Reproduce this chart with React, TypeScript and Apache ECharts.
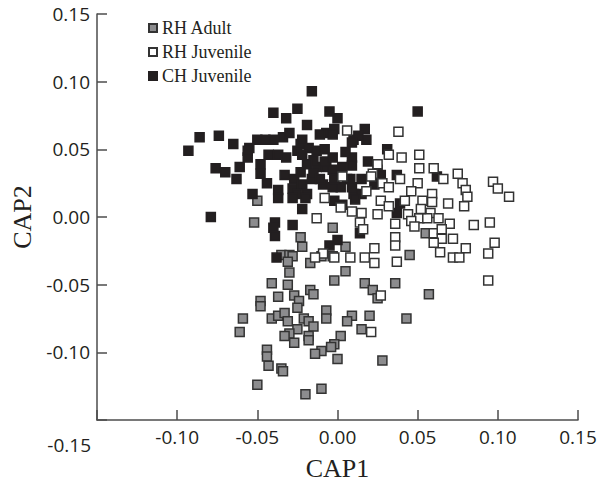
import React, { useEffect, useRef } from "react";
import * as echarts from "echarts";

// CAP1 / CAP2 scores
const rhAdult: [number, number][] = [
  [-0.050, 0.012], [-0.052, -0.004], [-0.003, -0.008], [-0.023, -0.015], [-0.022, -0.022],
  [0.005, -0.022], [-0.035, -0.028], [-0.030, -0.028], [-0.028, -0.029], [-0.031, -0.033],
  [-0.017, -0.034], [-0.010, -0.029], [-0.003, -0.029], [0.005, -0.040], [-0.030, -0.041],
  [-0.002, -0.047], [-0.041, -0.049], [-0.031, -0.050], [-0.037, -0.059], [-0.027, -0.058],
  [-0.017, -0.054], [-0.015, -0.057], [-0.024, -0.062], [-0.048, -0.062], [-0.048, -0.066],
  [-0.025, -0.067], [-0.007, -0.069], [-0.007, -0.075], [0.009, -0.073], [0.006, -0.077],
  [0.020, -0.073], [0.017, -0.049], [0.022, -0.054], [0.025, -0.060], [0.036, -0.049],
  [-0.059, -0.075], [-0.041, -0.075], [-0.037, -0.073], [-0.033, -0.071], [-0.031, -0.077],
  [-0.021, -0.075], [-0.018, -0.077], [-0.015, -0.081], [-0.025, -0.083], [-0.030, -0.086],
  [-0.033, -0.088], [-0.027, -0.093], [-0.018, -0.088], [-0.018, -0.091], [-0.061, -0.085],
  [0.015, -0.083], [0.002, -0.088], [-0.002, -0.094], [-0.004, -0.096], [-0.010, -0.099],
  [-0.014, -0.101], [0.000, -0.105], [-0.044, -0.098], [-0.044, -0.103], [-0.043, -0.110],
  [-0.035, -0.112], [-0.034, -0.114], [0.028, -0.106], [-0.050, -0.124], [-0.010, -0.127],
  [-0.020, -0.131], [0.045, -0.028], [0.057, -0.057], [0.043, -0.075], [0.055, -0.012],
];

const rhJuvenile: [number, number][] = [
  [0.006, 0.064], [0.038, 0.063], [0.032, 0.046], [0.040, 0.044], [0.051, 0.046],
  [0.025, 0.039], [0.022, 0.032], [0.028, 0.025], [0.032, 0.022], [0.039, 0.028],
  [0.051, 0.036], [0.060, 0.036], [0.066, 0.028], [0.075, 0.032], [0.078, 0.025],
  [0.080, 0.020], [0.081, 0.015], [0.079, 0.008], [0.069, 0.010], [0.097, 0.026],
  [0.100, 0.021], [0.107, 0.015], [0.050, 0.025], [0.046, 0.019], [0.027, 0.012],
  [0.032, 0.008], [0.025, 0.002], [0.015, 0.003], [0.014, -0.004], [0.002, 0.007],
  [-0.008, 0.014], [-0.013, -0.001], [0.003, 0.030], [0.053, 0.012], [0.059, 0.017],
  [0.059, 0.011], [0.058, 0.003], [0.063, -0.001], [0.051, -0.001], [0.056, -0.001],
  [0.044, 0.002], [0.046, -0.003], [0.048, -0.007], [0.070, -0.005], [0.085, -0.006],
  [0.095, -0.004], [0.098, -0.019], [0.080, -0.023], [0.072, -0.030], [0.076, -0.030],
  [0.064, -0.026], [0.072, -0.016], [0.060, -0.012], [0.065, -0.016], [0.060, -0.019],
  [0.036, -0.015], [0.036, -0.021], [0.023, -0.023], [0.017, -0.030], [0.008, -0.030],
  [-0.002, -0.030], [-0.009, -0.027], [-0.014, -0.030], [0.037, -0.033], [0.094, -0.027],
  [0.094, -0.047], [0.027, -0.058], [0.021, -0.085], [0.016, -0.009], [0.065, -0.009],
  [0.023, -0.034], [0.021, 0.030], [0.018, 0.019], [0.036, -0.005], [0.042, 0.012],
  [0.052, 0.006], [0.009, 0.004],
];

const chJuvenile: [number, number][] = [
  [-0.093, 0.049], [-0.086, 0.059], [-0.074, 0.060], [-0.076, 0.036], [-0.079, 0.000],
  [-0.065, 0.054], [-0.070, 0.033], [-0.061, 0.037], [-0.056, 0.044], [-0.055, 0.051],
  [-0.050, 0.057], [-0.040, 0.077], [-0.032, 0.073], [-0.040, 0.057], [-0.034, 0.059],
  [-0.043, 0.046], [-0.037, 0.046], [-0.032, 0.044], [-0.025, 0.049], [-0.019, 0.068],
  [-0.016, 0.093], [-0.005, 0.078], [0.000, 0.073], [-0.007, 0.062], [-0.002, 0.065],
  [-0.023, 0.054], [-0.018, 0.051], [-0.013, 0.049], [-0.008, 0.050], [-0.048, 0.039],
  [-0.048, 0.032], [-0.044, 0.025], [-0.037, 0.020], [-0.063, 0.028], [-0.053, 0.017],
  [-0.028, 0.021], [-0.027, 0.028], [-0.022, 0.024], [-0.016, 0.028], [-0.013, 0.037],
  [-0.007, 0.037], [-0.003, 0.035], [0.003, 0.037], [0.006, 0.028], [0.002, 0.022],
  [-0.003, 0.022], [-0.009, 0.024], [-0.019, 0.017], [-0.025, 0.017], [-0.022, 0.006],
  [-0.002, 0.012], [0.003, 0.009], [0.010, 0.017], [0.009, 0.044], [0.010, 0.057],
  [-0.011, 0.061], [-0.003, 0.061], [0.017, 0.065], [0.018, 0.057], [0.050, 0.078],
  [-0.022, 0.057], [-0.022, 0.046], [-0.015, 0.042], [-0.008, 0.041], [-0.003, 0.044],
  [0.009, 0.038], [0.019, 0.041], [0.031, 0.050], [0.025, 0.035], [0.027, 0.031],
  [-0.019, 0.039], [-0.015, 0.032], [-0.011, 0.028], [-0.002, 0.028], [0.008, 0.028],
  [0.009, 0.022], [0.015, 0.028], [0.015, 0.017], [0.023, 0.024], [0.037, 0.031],
  [0.062, 0.030], [0.011, 0.013], [0.039, 0.010], [0.037, 0.003], [0.014, -0.012],
  [-0.005, -0.021], [0.000, -0.017], [-0.039, -0.004], [-0.040, -0.008], [-0.039, -0.014],
  [-0.028, -0.006], [-0.038, -0.030], [-0.037, 0.014], [-0.028, 0.014], [-0.020, 0.014],
  [0.013, 0.060], [0.009, 0.055], [-0.045, 0.057], [-0.056, 0.049], [-0.030, 0.062],
  [-0.025, 0.080], [0.005, 0.048], [-0.023, 0.033], [-0.033, 0.031],
];

const axisTicks = [-0.15, -0.1, -0.05, 0, 0.05, 0.1, 0.15];
const seriesNames = ["RH Adult", "RH Juvenile", "CH Juvenile"];

const TEXT = "#231f20";
const AXIS = "#4d4d4d";
const SANS = "'Open Sans', 'Noto Sans', sans-serif";
const SERIF = "'Liberation Serif', 'DejaVu Serif', serif";

export default function App() {
  const ref = useRef<HTMLDivElement>(null);
  useEffect(() => {
    if (!ref.current) return;
    const chart = echarts.init(ref.current, undefined, { renderer: "svg" });
    const fmt = (v: number) =>
      Math.abs(v - axisTicks[0]) < 1e-9 ? "" : v.toFixed(2);
    const axisCommon = {
      min: axisTicks[0],
      max: axisTicks[axisTicks.length - 1],
      interval: 0.05,
      splitLine: { show: false },
      axisLine: { show: true, onZero: false, lineStyle: { color: AXIS, width: 1.5 } },
      axisTick: { show: true, inside: true, length: 10, lineStyle: { color: AXIS, width: 1.5 } },
    };
    const mk = (
      name: string,
      data: [number, number][],
      fill: string,
      border: string
    ) => ({
      name,
      type: "scatter",
      data,
      symbol: "rect",
      symbolSize: 9,
      itemStyle: { color: fill, borderColor: border, borderWidth: 1.5, opacity: 1 },
      emphasis: { disabled: true },
    });
    chart.setOption({
      animation: false,
      grid: { left: 97, right: 25, top: 14, bottom: 58, containLabel: false },
      legend: {
        orient: "vertical",
        left: 143,
        top: 14,
        itemWidth: 8,
        itemHeight: 8,
        itemGap: 6,
        data: seriesNames.map((n) => ({ name: n, icon: "rect" })),
        textStyle: { fontFamily: SERIF, fontSize: 18, color: TEXT, lineHeight: 18 },
      },
      xAxis: {
        type: "value",
        ...axisCommon,
        name: "CAP1",
        nameLocation: "middle",
        nameGap: 35,
        nameTextStyle: { fontFamily: SERIF, fontSize: 26, color: TEXT },
        axisLabel: { formatter: fmt, margin: 7, fontFamily: SANS, fontSize: 19, color: TEXT },
      },
      yAxis: {
        type: "value",
        ...axisCommon,
        name: "CAP2",
        nameLocation: "middle",
        nameGap: 62,
        nameTextStyle: { fontFamily: SERIF, fontSize: 26, color: TEXT },
        axisLabel: { formatter: fmt, margin: 7, fontFamily: SANS, fontSize: 19, color: TEXT },
      },
      graphic: [
        {
          type: "text",
          x: 91,
          y: 445,
          style: {
            text: "-0.15",
            align: "right",
            verticalAlign: "middle",
            font: `19px ${SANS}`,
            fill: TEXT,
          },
        },
      ],
      series: [
        mk("RH Adult", rhAdult, "#8c8c8e", "#333333"),
        mk("CH Juvenile", chJuvenile, "#231f20", "#231f20"),
        mk("RH Juvenile", rhJuvenile, "#ffffff", "#333333"),
      ],
    });
    return () => chart.dispose();
  }, []);
  return (
    <div
      ref={ref}
      style={{ position: "fixed", left: 0, top: 0, width: 603, height: 486, background: "#fff" }}
    />
  );
}
